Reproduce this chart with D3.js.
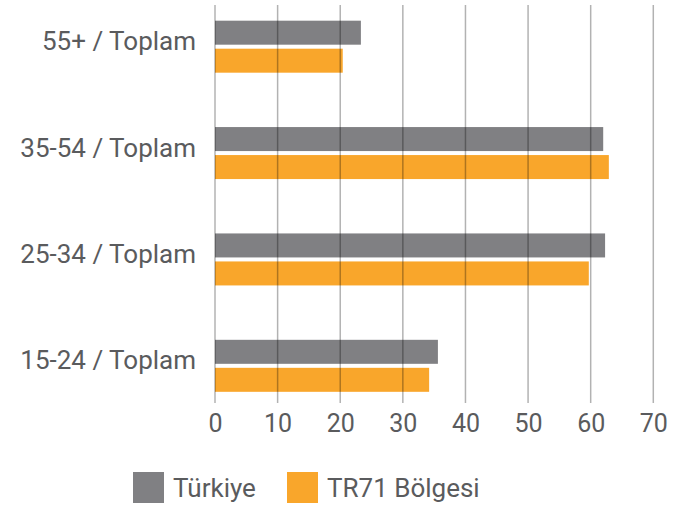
<!DOCTYPE html>
<html>
<head>
<meta charset="utf-8">
<script src="https://cdn.jsdelivr.net/npm/d3@7"></script>
<style>
  body { margin: 0; background: #fff; }
  text { font-family: Roboto, sans-serif; fill: #5a5b5d; }
</style>
</head>
<body>
<svg width="687" height="509"></svg>
<script>
// data
var categories = ['55+ / Toplam', '35-54 / Toplam', '25-34 / Toplam', '15-24 / Toplam'];
var turkiye = [23.3, 62.0, 62.3, 35.6];
var tr71 = [20.4, 62.9, 59.7, 34.2];
var seriesNames = ['Türkiye', 'TR71 Bölgesi'];
var seriesColors = ['#808083', '#f9a62b'];
var ticks = [0, 10, 20, 30, 40, 50, 60, 70];

var svg = d3.select('svg');

var x = d3.scaleLinear().domain([0, 70]).range([215, 653.3]);
var y = d3.scaleBand().domain(categories).range([-6.5, 419]).padding(0);

var barH = 24, gap = 4;
var series = [turkiye, tr71];

// bars
series.forEach(function(vals, s) {
    svg.append('g').selectAll('rect')
        .data(vals)
        .join('rect')
        .attr('x', x(0))
        .attr('y', function(d, i) {
            var c = y(categories[i]) + y.bandwidth() / 2;
            return s == 0 ? c - barH - gap / 2 : c + gap / 2;
        })
        .attr('width', function(d) { return x(d) - x(0); })
        .attr('height', barH)
        .style('fill', seriesColors[s]);
});

// grid lines on top of bars
svg.append('g').selectAll('line')
    .data(ticks)
    .join('line')
    .attr('x1', function(d) { return x(d); })
    .attr('x2', function(d) { return x(d); })
    .attr('y1', 5)
    .attr('y2', 403)
    .style('stroke', '#000')
    .style('stroke-opacity', 0.3)
    .style('stroke-width', 1.5);

// x tick labels
var xAxis = svg.append('g')
    .attr('transform', 'translate(0,405)')
    .call(d3.axisBottom(x).tickValues(ticks).tickSize(0).tickPadding(0));
xAxis.select('.domain').remove();
xAxis.selectAll('text')
    .attr('dy', 27)
    .style('font-size', '25px')
    .style('font-family', 'Roboto, sans-serif')
    .attr('fill', '#5a5b5d');

// category labels
svg.append('g').selectAll('text')
    .data(categories)
    .join('text')
    .attr('x', 196)
    .attr('y', function(d) { return y(d) + y.bandwidth() / 2 + 3.5; })
    .attr('text-anchor', 'end')
    .style('font-size', '26px')
    .text(function(d) { return d; });

// legend
var legendX = [133, 287];
seriesNames.forEach(function(name, i) {
    var g = svg.append('g');
    g.append('rect')
        .attr('x', legendX[i])
        .attr('y', 472)
        .attr('width', 31)
        .attr('height', 31)
        .style('fill', seriesColors[i]);
    g.append('text')
        .attr('x', legendX[i] + 40)
        .attr('y', 497)
        .style('font-size', '26px')
        .text(name);
});
</script>
</body>
</html>
